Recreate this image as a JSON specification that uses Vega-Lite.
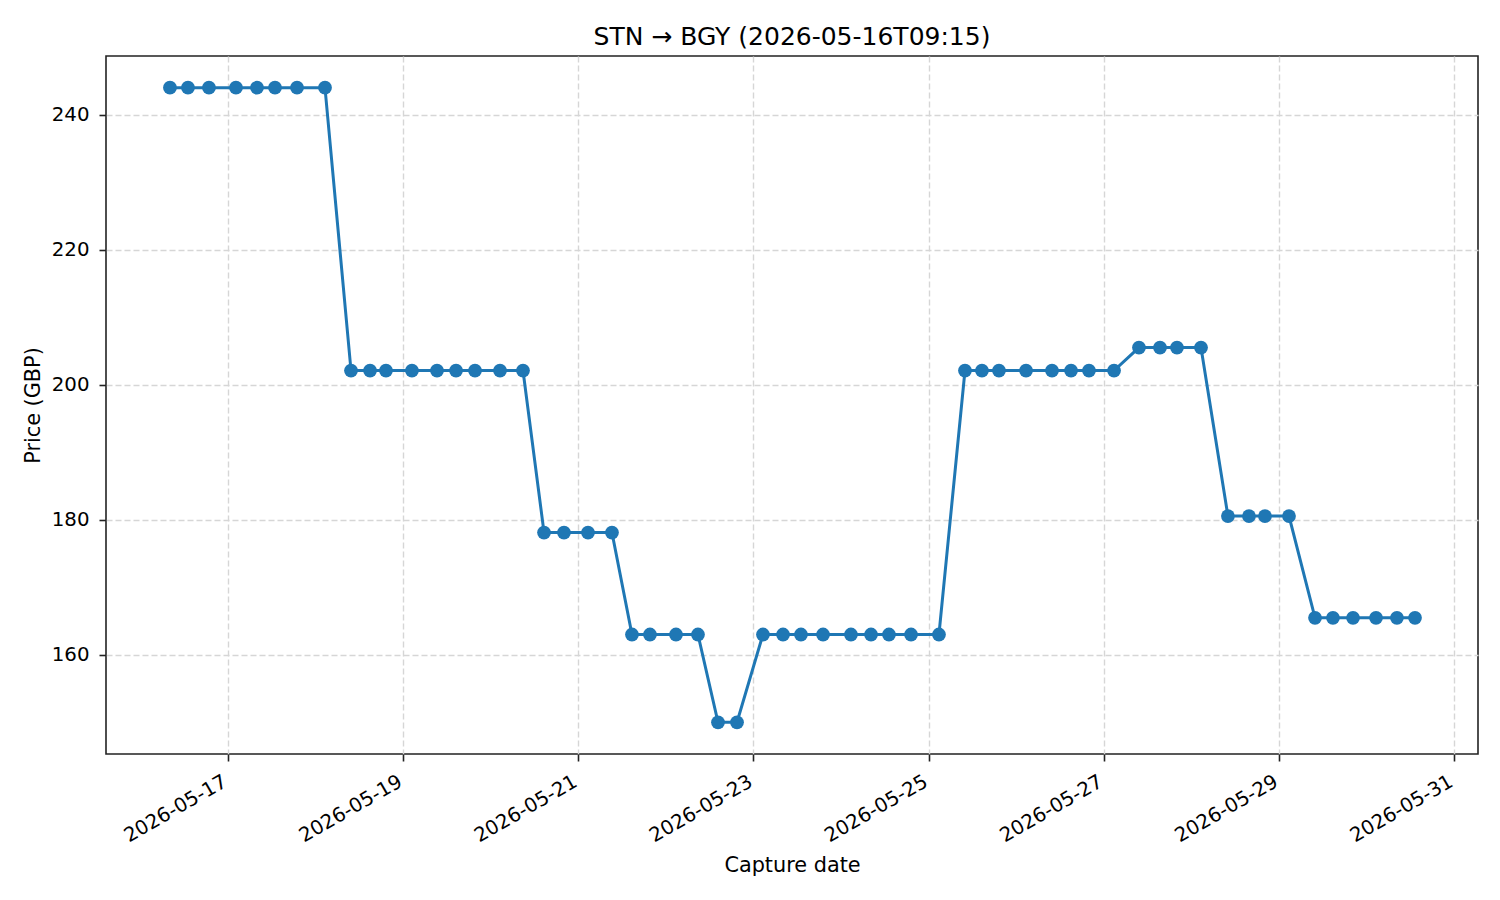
{
  "$schema": "https://vega.github.io/schema/vega-lite/v6.json",
  "width": 1372,
  "height": 698,
  "autosize": {"type": "none"},
  "padding": {"left": 106, "top": 56, "right": 22, "bottom": 146},
  "background": "white",
  "title": {"text": "STN → BGY (2026-05-16T09:15)", "font": "DejaVu Sans", "fontSize": 25, "fontWeight": "normal", "color": "black", "offset": 6},
  "config": {
    "view": {"stroke": "#222222", "strokeWidth": 1.6},
    "axis": {"labelFont": "DejaVu Sans", "titleFont": "DejaVu Sans", "labelFontSize": 19.8, "titleFontSize": 20.8, "titleFontWeight": "normal", "labelColor": "black", "titleColor": "black", "tickColor": "#222222", "tickSize": 7, "tickWidth": 1.6, "domain": false, "grid": true, "gridColor": "#d6d6d6", "gridDash": [6, 3], "gridWidth": 1.4}
  },
  "data": {"values": [
    {"t": "2026-05-16T08:06", "p": 244},
    {"t": "2026-05-16T13:02", "p": 244},
    {"t": "2026-05-16T18:47", "p": 244},
    {"t": "2026-05-17T02:11", "p": 244},
    {"t": "2026-05-17T07:57", "p": 244},
    {"t": "2026-05-17T12:53", "p": 244},
    {"t": "2026-05-17T18:55", "p": 244},
    {"t": "2026-05-18T02:35", "p": 244},
    {"t": "2026-05-18T09:43", "p": 202.1},
    {"t": "2026-05-18T14:56", "p": 202.1},
    {"t": "2026-05-18T19:18", "p": 202.1},
    {"t": "2026-05-19T02:25", "p": 202.1},
    {"t": "2026-05-19T09:17", "p": 202.1},
    {"t": "2026-05-19T14:30", "p": 202.1},
    {"t": "2026-05-19T19:42", "p": 202.1},
    {"t": "2026-05-20T02:33", "p": 202.1},
    {"t": "2026-05-20T08:51", "p": 202.1},
    {"t": "2026-05-20T14:37", "p": 178.1},
    {"t": "2026-05-20T20:05", "p": 178.1},
    {"t": "2026-05-21T02:40", "p": 178.1},
    {"t": "2026-05-21T09:14", "p": 178.1},
    {"t": "2026-05-21T14:43", "p": 163},
    {"t": "2026-05-21T19:39", "p": 163},
    {"t": "2026-05-22T02:47", "p": 163},
    {"t": "2026-05-22T08:48", "p": 163},
    {"t": "2026-05-22T14:18", "p": 150},
    {"t": "2026-05-22T19:30", "p": 150},
    {"t": "2026-05-23T02:37", "p": 163},
    {"t": "2026-05-23T08:07", "p": 163},
    {"t": "2026-05-23T13:02", "p": 163},
    {"t": "2026-05-23T19:05", "p": 163},
    {"t": "2026-05-24T02:44", "p": 163},
    {"t": "2026-05-24T08:14", "p": 163},
    {"t": "2026-05-24T13:09", "p": 163},
    {"t": "2026-05-24T19:12", "p": 163},
    {"t": "2026-05-25T02:51", "p": 163},
    {"t": "2026-05-25T09:59", "p": 202.1},
    {"t": "2026-05-25T14:38", "p": 202.1},
    {"t": "2026-05-25T19:18", "p": 202.1},
    {"t": "2026-05-26T02:43", "p": 202.1},
    {"t": "2026-05-26T09:50", "p": 202.1},
    {"t": "2026-05-26T15:03", "p": 202.1},
    {"t": "2026-05-26T19:58", "p": 202.1},
    {"t": "2026-05-27T02:50", "p": 202.1},
    {"t": "2026-05-27T09:40", "p": 205.5},
    {"t": "2026-05-27T15:26", "p": 205.5},
    {"t": "2026-05-27T20:05", "p": 205.5},
    {"t": "2026-05-28T02:40", "p": 205.5},
    {"t": "2026-05-28T10:03", "p": 180.55},
    {"t": "2026-05-28T15:49", "p": 180.55},
    {"t": "2026-05-28T20:12", "p": 180.55},
    {"t": "2026-05-29T02:47", "p": 180.55},
    {"t": "2026-05-29T09:55", "p": 165.47},
    {"t": "2026-05-29T14:50", "p": 165.47},
    {"t": "2026-05-29T20:20", "p": 165.47},
    {"t": "2026-05-30T02:38", "p": 165.47},
    {"t": "2026-05-30T08:22", "p": 165.47},
    {"t": "2026-05-30T13:19", "p": 165.47}
  ]},
  "encoding": {
    "x": {"field": "t", "type": "temporal", "title": "Capture date",
      "scale": {"domain": ["2026-05-15T14:34", "2026-05-31T06:35"], "nice": false},
      "axis": {"values": ["2026-05-17T00:00", "2026-05-19T00:00", "2026-05-21T00:00", "2026-05-23T00:00", "2026-05-25T00:00", "2026-05-27T00:00", "2026-05-29T00:00", "2026-05-31T00:00"],
        "format": "%Y-%m-%d", "labelAngle": -30, "labelAlign": "right", "labelBaseline": "top", "labelPadding": 10, "labelOffset": -8, "titlePadding": 10, "labelOverlap": false}},
    "y": {"field": "p", "type": "quantitative", "title": "Price (GBP)",
      "scale": {"domain": [145.3, 248.7], "nice": false, "zero": false},
      "axis": {"values": [160, 180, 200, 220, 240], "labelPadding": 10, "titlePadding": 8}}
  },
  "layer": [
    {"mark": {"type": "line", "color": "#1f77b4", "strokeWidth": 3}},
    {"mark": {"type": "point", "filled": true, "opacity": 1, "color": "#1f77b4", "size": 190}}
  ]
}
